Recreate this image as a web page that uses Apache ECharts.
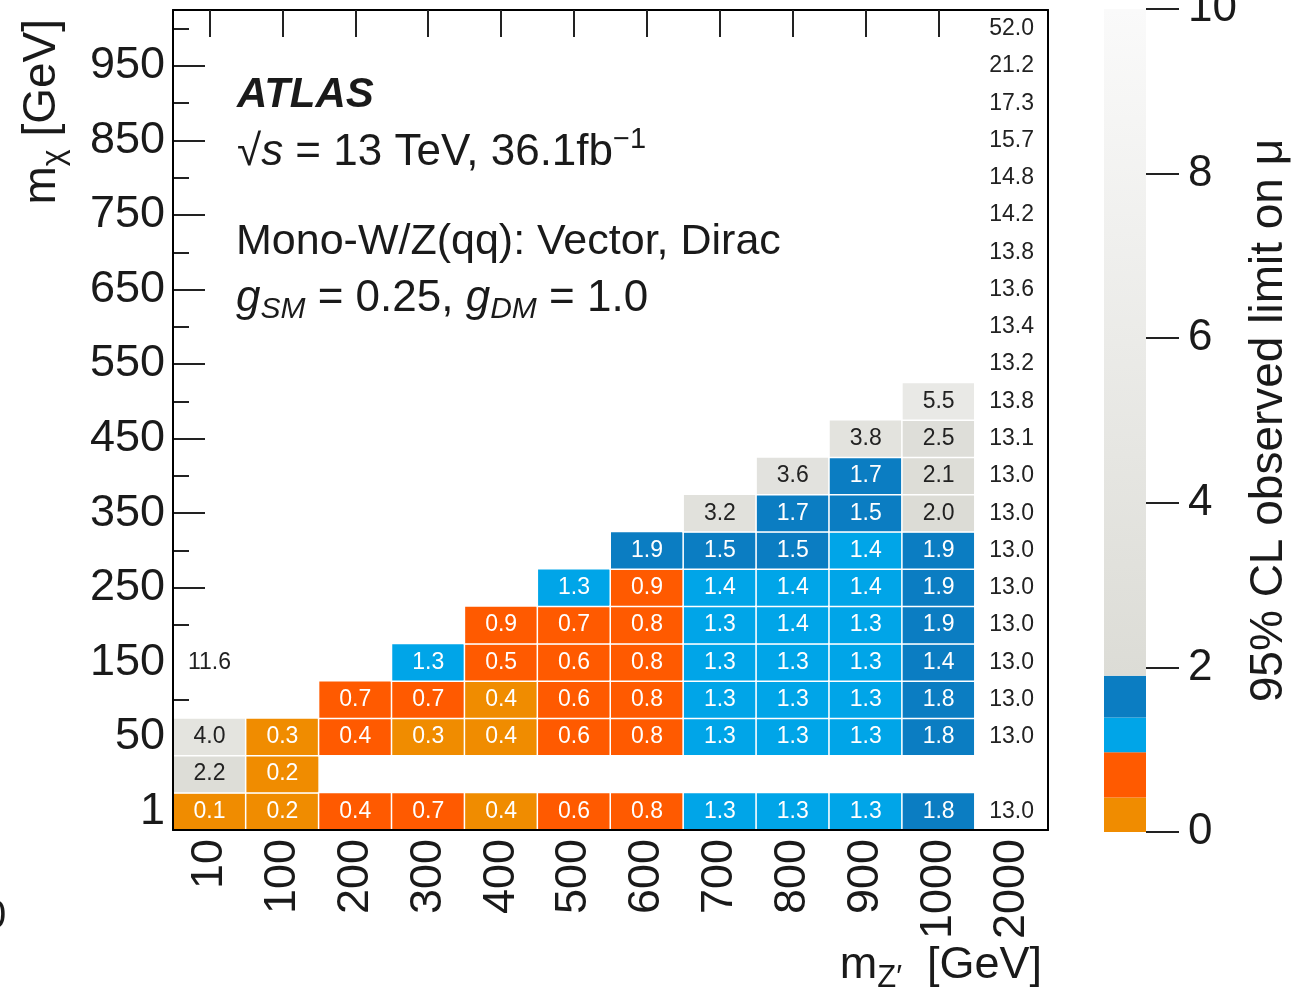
<!DOCTYPE html>
<html>
<head>
<meta charset="utf-8">
<script src="https://cdn.jsdelivr.net/npm/echarts@6/dist/echarts.min.js"></script>
<style>
html,body{margin:0;padding:0;background:#fff;}
#chart{width:1292px;height:990px;}
</style>
</head>
<body>
<div id="chart"></div>
<script>
// ---- categories ----
const xCats = ['10','100','200','300','400','500','600','700','800','900','1000','2000'];
const yCats = ['1','10','50','100','150','200','250','300','350','400','450','500','550','600','650','700','750','800','850','900','950','1000'];
const yLabeled = ['1','50','150','250','350','450','550','650','750','850','950'];

// ---- 95% CL observed limit on mu, per m_Z' column, listed from m_chi = 1 upward ----
const col10   = [0.1, 2.2, 4.0, null, 11.6];
const col100  = [0.2, 0.2, 0.3];
const col200  = [0.44, null, 0.44, 0.7];
const col300  = [0.7, null, 0.3, 0.7, 1.3];
const col400  = [0.4, null, 0.4, 0.4, 0.5, 0.9];
const col500  = [0.6, null, 0.6, 0.6, 0.6, 0.7, 1.3];
const col600  = [0.8, null, 0.8, 0.8, 0.8, 0.8, 0.9, 1.88];
const col700  = [1.3, null, 1.3, 1.3, 1.3, 1.3, 1.37, 1.5, 3.2];
const col800  = [1.3, null, 1.3, 1.3, 1.3, 1.37, 1.37, 1.5, 1.7, 3.6];
const col900  = [1.3, null, 1.3, 1.3, 1.3, 1.3, 1.37, 1.37, 1.5, 1.7, 3.8];
const col1000 = [1.8, null, 1.8, 1.8, 1.42, 1.88, 1.88, 1.88, 2.0, 2.1, 2.5, 5.5];
const col2000 = [13.0, null, 13.0, 13.0, 13.0, 13.0, 13.0, 13.0, 13.0, 13.0, 13.1, 13.8, 13.2, 13.4, 13.6, 13.8, 14.2, 14.8, 15.7, 17.3, 21.2, 52.0];
const columns = [col10, col100, col200, col300, col400, col500, col600, col700, col800, col900, col1000, col2000];

// ---- colour palette (z axis) ----
const cbEdges  = [0, 0.42, 0.97, 1.39, 1.9, 10];
const cbColors = ['#f08c00', '#ff5a00', '#00a5e8', '#0b7dc2'];
const grayLo = [220, 220, 214];
const grayHi = [250, 250, 250];
const cbTicks = [0, 2, 4, 6, 8, 10];

const FONT = '"Liberation Sans", Arial, Helvetica, sans-serif';
const TXT = '#1a1a1a';

function colorFor(v) {
  if (v > cbEdges[cbEdges.length - 1]) return '#ffffff';
  for (let i = 0; i < cbColors.length; i++) {
    if (v < cbEdges[i + 1]) return cbColors[i];
  }
  const t = (v - cbEdges[4]) / (cbEdges[5] - cbEdges[4]);
  const c = grayLo.map((a, k) => Math.round(a + (grayHi[k] - a) * t));
  return 'rgb(' + c.join(',') + ')';
}

const cells = [];
columns.forEach((col, xi) => {
  col.forEach((v, yi) => {
    if (v === null || v === undefined) return;
    cells.push({
      value: [xi, yi, v],
      itemStyle: { color: colorFor(v) },
      label: { color: v < cbEdges[4] ? '#ffffff' : '#222222' }
    });
  });
});

const isMajor = (i, v) => yLabeled.indexOf(yCats[i]) >= 0;
const lineBlack = { color: '#000', width: 2 };
const tickStyle = { color: '#222', width: 2 };

const chart = echarts.init(document.getElementById('chart'), null, { renderer: 'canvas' });

const cbSeries = cbColors.map((c, i) => ({
  type: 'bar', stack: 'cb', xAxisIndex: 2, yAxisIndex: 4, barWidth: '100%', silent: true,
  data: [cbEdges[i + 1] - cbEdges[i]], itemStyle: { color: c }
}));
cbSeries.push({
  type: 'bar', stack: 'cb', xAxisIndex: 2, yAxisIndex: 4, barWidth: '100%', silent: true,
  data: [cbEdges[5] - cbEdges[4]],
  itemStyle: {
    color: new echarts.graphic.LinearGradient(0, 1, 0, 0, [
      { offset: 0, color: 'rgb(' + grayLo.join(',') + ')' },
      { offset: 1, color: 'rgb(' + grayHi.join(',') + ')' }
    ])
  }
});

const option = {
  animation: false,
  backgroundColor: '#fff',
  textStyle: { fontFamily: FONT },
  grid: [
    { left: 173, top: 10, width: 875, height: 820, containLabel: false, outerBoundsMode: 'none' },
    { left: 1104, top: 9, width: 42, height: 823, containLabel: false, outerBoundsMode: 'none' }
  ],
  xAxis: [
    { type: 'category', data: xCats, gridIndex: 0, position: 'bottom', z: 10,
      axisLine: { show: true, lineStyle: lineBlack }, axisTick: { show: false },
      axisLabel: { rotate: 90, fontSize: 45, color: TXT, margin: 9, fontFamily: FONT, interval: 0 },
      splitLine: { show: false } },
    { type: 'category', data: xCats, gridIndex: 0, position: 'top', z: 10,
      axisLine: { show: true, lineStyle: lineBlack },
      axisTick: { show: true, inside: true, length: 27, alignWithLabel: true,
                  interval: (i) => i < xCats.length - 1, lineStyle: tickStyle },
      axisLabel: { show: false }, splitLine: { show: false } },
    { type: 'category', data: ['z'], gridIndex: 1, show: false }
  ],
  yAxis: [
    { type: 'category', data: yCats, gridIndex: 0, position: 'left', z: 0,
      axisLine: { show: false },
      axisTick: { show: true, inside: true, length: 32, alignWithLabel: true, interval: isMajor, lineStyle: tickStyle },
      axisLabel: { interval: isMajor, fontSize: 45, color: TXT, margin: 8, fontFamily: FONT },
      splitLine: { show: false } },
    { type: 'category', data: yCats, gridIndex: 0, position: 'left', z: 0,
      axisLine: { show: false },
      axisTick: { show: true, inside: true, length: 16, alignWithLabel: true, interval: 0, lineStyle: tickStyle },
      axisLabel: { show: false }, splitLine: { show: false } },
    { type: 'category', data: yCats, gridIndex: 0, position: 'left', z: 10,
      axisLine: { show: true, lineStyle: lineBlack }, axisTick: { show: false },
      axisLabel: { show: false }, splitLine: { show: false } },
    { type: 'category', data: yCats, gridIndex: 0, position: 'right', z: 10,
      axisLine: { show: true, lineStyle: lineBlack }, axisTick: { show: false },
      axisLabel: { show: false }, splitLine: { show: false } },
    { type: 'value', gridIndex: 1, position: 'right', min: cbTicks[0], max: cbTicks[cbTicks.length - 1], interval: 2,
      axisLine: { show: false },
      axisTick: { show: true, length: 33, lineStyle: tickStyle },
      axisLabel: { fontSize: 44, color: TXT, margin: 42, fontFamily: FONT },
      splitLine: { show: false },
      name: '95% CL observed limit on \u03bc', nameLocation: 'middle', nameRotate: 90, nameGap: 100,
      nameMoveOverlap: false,
      nameTextStyle: { fontSize: 46, color: TXT, fontFamily: FONT } }
  ],
  series: [
    { type: 'heatmap', xAxisIndex: 0, yAxisIndex: 0, data: cells, z: 2,
      itemStyle: { borderColor: '#ffffff', borderWidth: 1.5 },
      label: { show: true, fontSize: 23, fontFamily: FONT, formatter: (p) => p.value[2].toFixed(1) },
      emphasis: { disabled: true } }
  ].concat(cbSeries),
  graphic: [
    { type: 'text', x: 237, y: 95, silent: true,
      style: { text: 'ATLAS', fontSize: 42, fontWeight: 'bold', fontStyle: 'italic', fontFamily: FONT,
               fill: TXT, verticalAlign: 'middle', textVerticalAlign: 'middle' } },
    { type: 'text', x: 237, y: 153, silent: true,
      style: { text: '{n|\u221a}{i|s}{n| = 13 TeV, 36.1fb}{sup|\u22121}', fontSize: 44, fontFamily: FONT, fill: TXT,
               verticalAlign: 'middle', textVerticalAlign: 'middle',
               rich: {
                 n: { fontSize: 44, fontFamily: FONT, fill: TXT, lineHeight: 50 },
                 i: { fontSize: 44, fontFamily: FONT, fontStyle: 'italic', fill: TXT, lineHeight: 50 },
                 sup: { fontSize: 29, fontFamily: FONT, fill: TXT, lineHeight: 34, padding: [0, 0, 26, 0] }
               } } },
    { type: 'text', x: 236, y: 242, silent: true,
      style: { text: 'Mono-W/Z(qq): Vector, Dirac', fontSize: 43, fontFamily: FONT, fill: TXT,
               verticalAlign: 'middle', textVerticalAlign: 'middle' } },
    { type: 'text', x: 236, y: 299, silent: true,
      style: { text: '{i|g}{sub|SM}{n| = 0.25, }{i|g}{sub|DM}{n| = 1.0}', fontSize: 43, fontFamily: FONT, fill: TXT,
               verticalAlign: 'middle', textVerticalAlign: 'middle',
               rich: {
                 n: { fontSize: 44, fontFamily: FONT, fill: TXT, lineHeight: 50 },
                 i: { fontSize: 44, fontFamily: FONT, fontStyle: 'italic', fill: TXT, lineHeight: 50 },
                 sub: { fontSize: 30, fontFamily: FONT, fontStyle: 'italic', fill: TXT, lineHeight: 34, padding: [22, 0, 0, 0] }
               } } },
    { type: 'text', x: 42, y: 19, rotation: Math.PI / 2, silent: true,
      style: { text: '{n|m}{sub|\u03c7}{n| [GeV]}', fontSize: 45, fontFamily: FONT, fill: TXT,
               align: 'right', textAlign: 'right', verticalAlign: 'middle', textVerticalAlign: 'middle',
               rich: {
                 n: { fontSize: 46, fontFamily: FONT, fill: TXT, lineHeight: 52 },
                 sub: { fontSize: 32, fontFamily: FONT, fill: TXT, lineHeight: 34, padding: [24, 0, 0, 0] }
               } } },
    { type: 'text', x: 1042, y: 966, silent: true,
      style: { text: '{n|m}{sub|Z\u2032}{n|  [GeV]}', fontSize: 45, fontFamily: FONT, fill: TXT,
               align: 'right', textAlign: 'right', verticalAlign: 'middle', textVerticalAlign: 'middle',
               rich: {
                 n: { fontSize: 45, fontFamily: FONT, fill: TXT, lineHeight: 52 },
                 sub: { fontSize: 31, fontFamily: FONT, fill: TXT, lineHeight: 34, padding: [24, 0, 0, 0] }
               } } },
    { type: 'text', x: -16, y: 917, silent: true,
      style: { text: '0', fontSize: 40, fontFamily: FONT, fill: TXT, verticalAlign: 'middle', textVerticalAlign: 'middle' } }
  ]
};
chart.setOption(option);
</script>
</body>
</html>
